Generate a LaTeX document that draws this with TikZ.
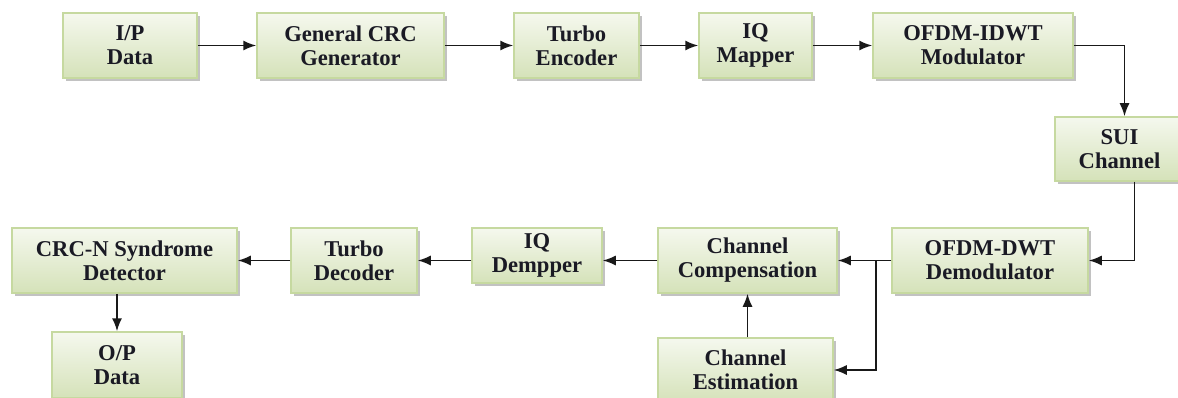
\documentclass[tikz,border=0pt]{standalone}
\usepackage{fontspec}
\setmainfont{Liberation Serif}
\usetikzlibrary{arrows.meta,shadows}
\definecolor{boxtop}{HTML}{F5F8EE}
\definecolor{boxbot}{HTML}{D5E2B9}
\definecolor{boxline}{HTML}{C6D9A0}
\definecolor{txt}{HTML}{1A1A24}
\tikzset{
  blk/.style={draw=boxline, line width=1.5pt, top color=boxtop, bottom color=boxbot,
    align=center, inner sep=0pt, text=txt, font=\fontsize{22.6}{24}\selectfont\bfseries,
    drop shadow={shadow xshift=3pt, shadow yshift=-3pt, fill=black!40, opacity=0.6}},
  conn/.style={line width=1.6pt, draw=black!90, -{Latex[length=13pt,width=10pt]}},
}
\begin{document}
\begin{tikzpicture}[x=1pt,y=-1pt]
\useasboundingbox (0,0) rectangle (1178,398);
\node[blk, minimum width=134pt, minimum height=65pt] (ip) at (130,45.5) {I/P\\Data};
\node[blk, minimum width=187pt, minimum height=65pt] (crc) at (350.5,45.5) {General CRC\\Generator};
\node[blk, minimum width=125pt, minimum height=65pt] (tenc) at (576.5,45.5) {Turbo\\Encoder};
\node[blk, minimum width=113pt, minimum height=65pt] (iqm) at (755.5,45.5) {IQ\\Mapper};
\node[blk, minimum width=200pt, minimum height=65pt] (mod) at (973,45.5) {OFDM-IDWT\\Modulator};
\node[blk, minimum width=129pt, minimum height=64pt] (sui) at (1119.5,149) {SUI\\Channel};
\node[blk, minimum width=196pt, minimum height=65pt] (dem) at (990,260.5) {OFDM-DWT\\Demodulator};
\node[blk, minimum width=179pt, minimum height=65pt] (comp) at (747.5,260.5) {Channel\\Compensation};
\node[blk, minimum width=175pt, minimum height=64pt] (est) at (745.5,370) {Channel\\Estimation};
\node[blk, minimum width=130pt, minimum height=55pt] (iqd) at (537,255.5) {IQ\\Dempper};
\node[blk, minimum width=126pt, minimum height=65pt] (tdec) at (354,260.5) {Turbo\\Decoder};
\node[blk, minimum width=225pt, minimum height=65pt] (crcn) at (124.5,260.5) {CRC-N Syndrome\\Detector};
\node[blk, minimum width=130pt, minimum height=66pt] (op) at (117,365) {O/P\\Data};
\coordinate (br) at (876,260.5);
\draw[conn] (ip) -- (crc);
\draw[conn] (crc) -- (tenc);
\draw[conn] (tenc) -- (iqm);
\draw[conn] (iqm) -- (mod);
\draw[conn] (mod.east) -| ([xshift=5pt]sui.north);
\draw[conn] ([xshift=15pt]sui.south) |- (dem.east);
\draw[conn] (dem.west) -- (comp.east);
\draw[conn] (br) |- (est.east);
\draw[conn] (est.north -| comp.south) -- (comp.south);
\draw[conn] (comp.west) -- (comp.west -| iqd.east);
\draw[conn] (comp.west -| iqd.west) -- (tdec.east);
\draw[conn] (tdec) -- (crcn);
\draw[conn] (crcn.south -| op.north) -- (op.north);
\end{tikzpicture}
\end{document}
